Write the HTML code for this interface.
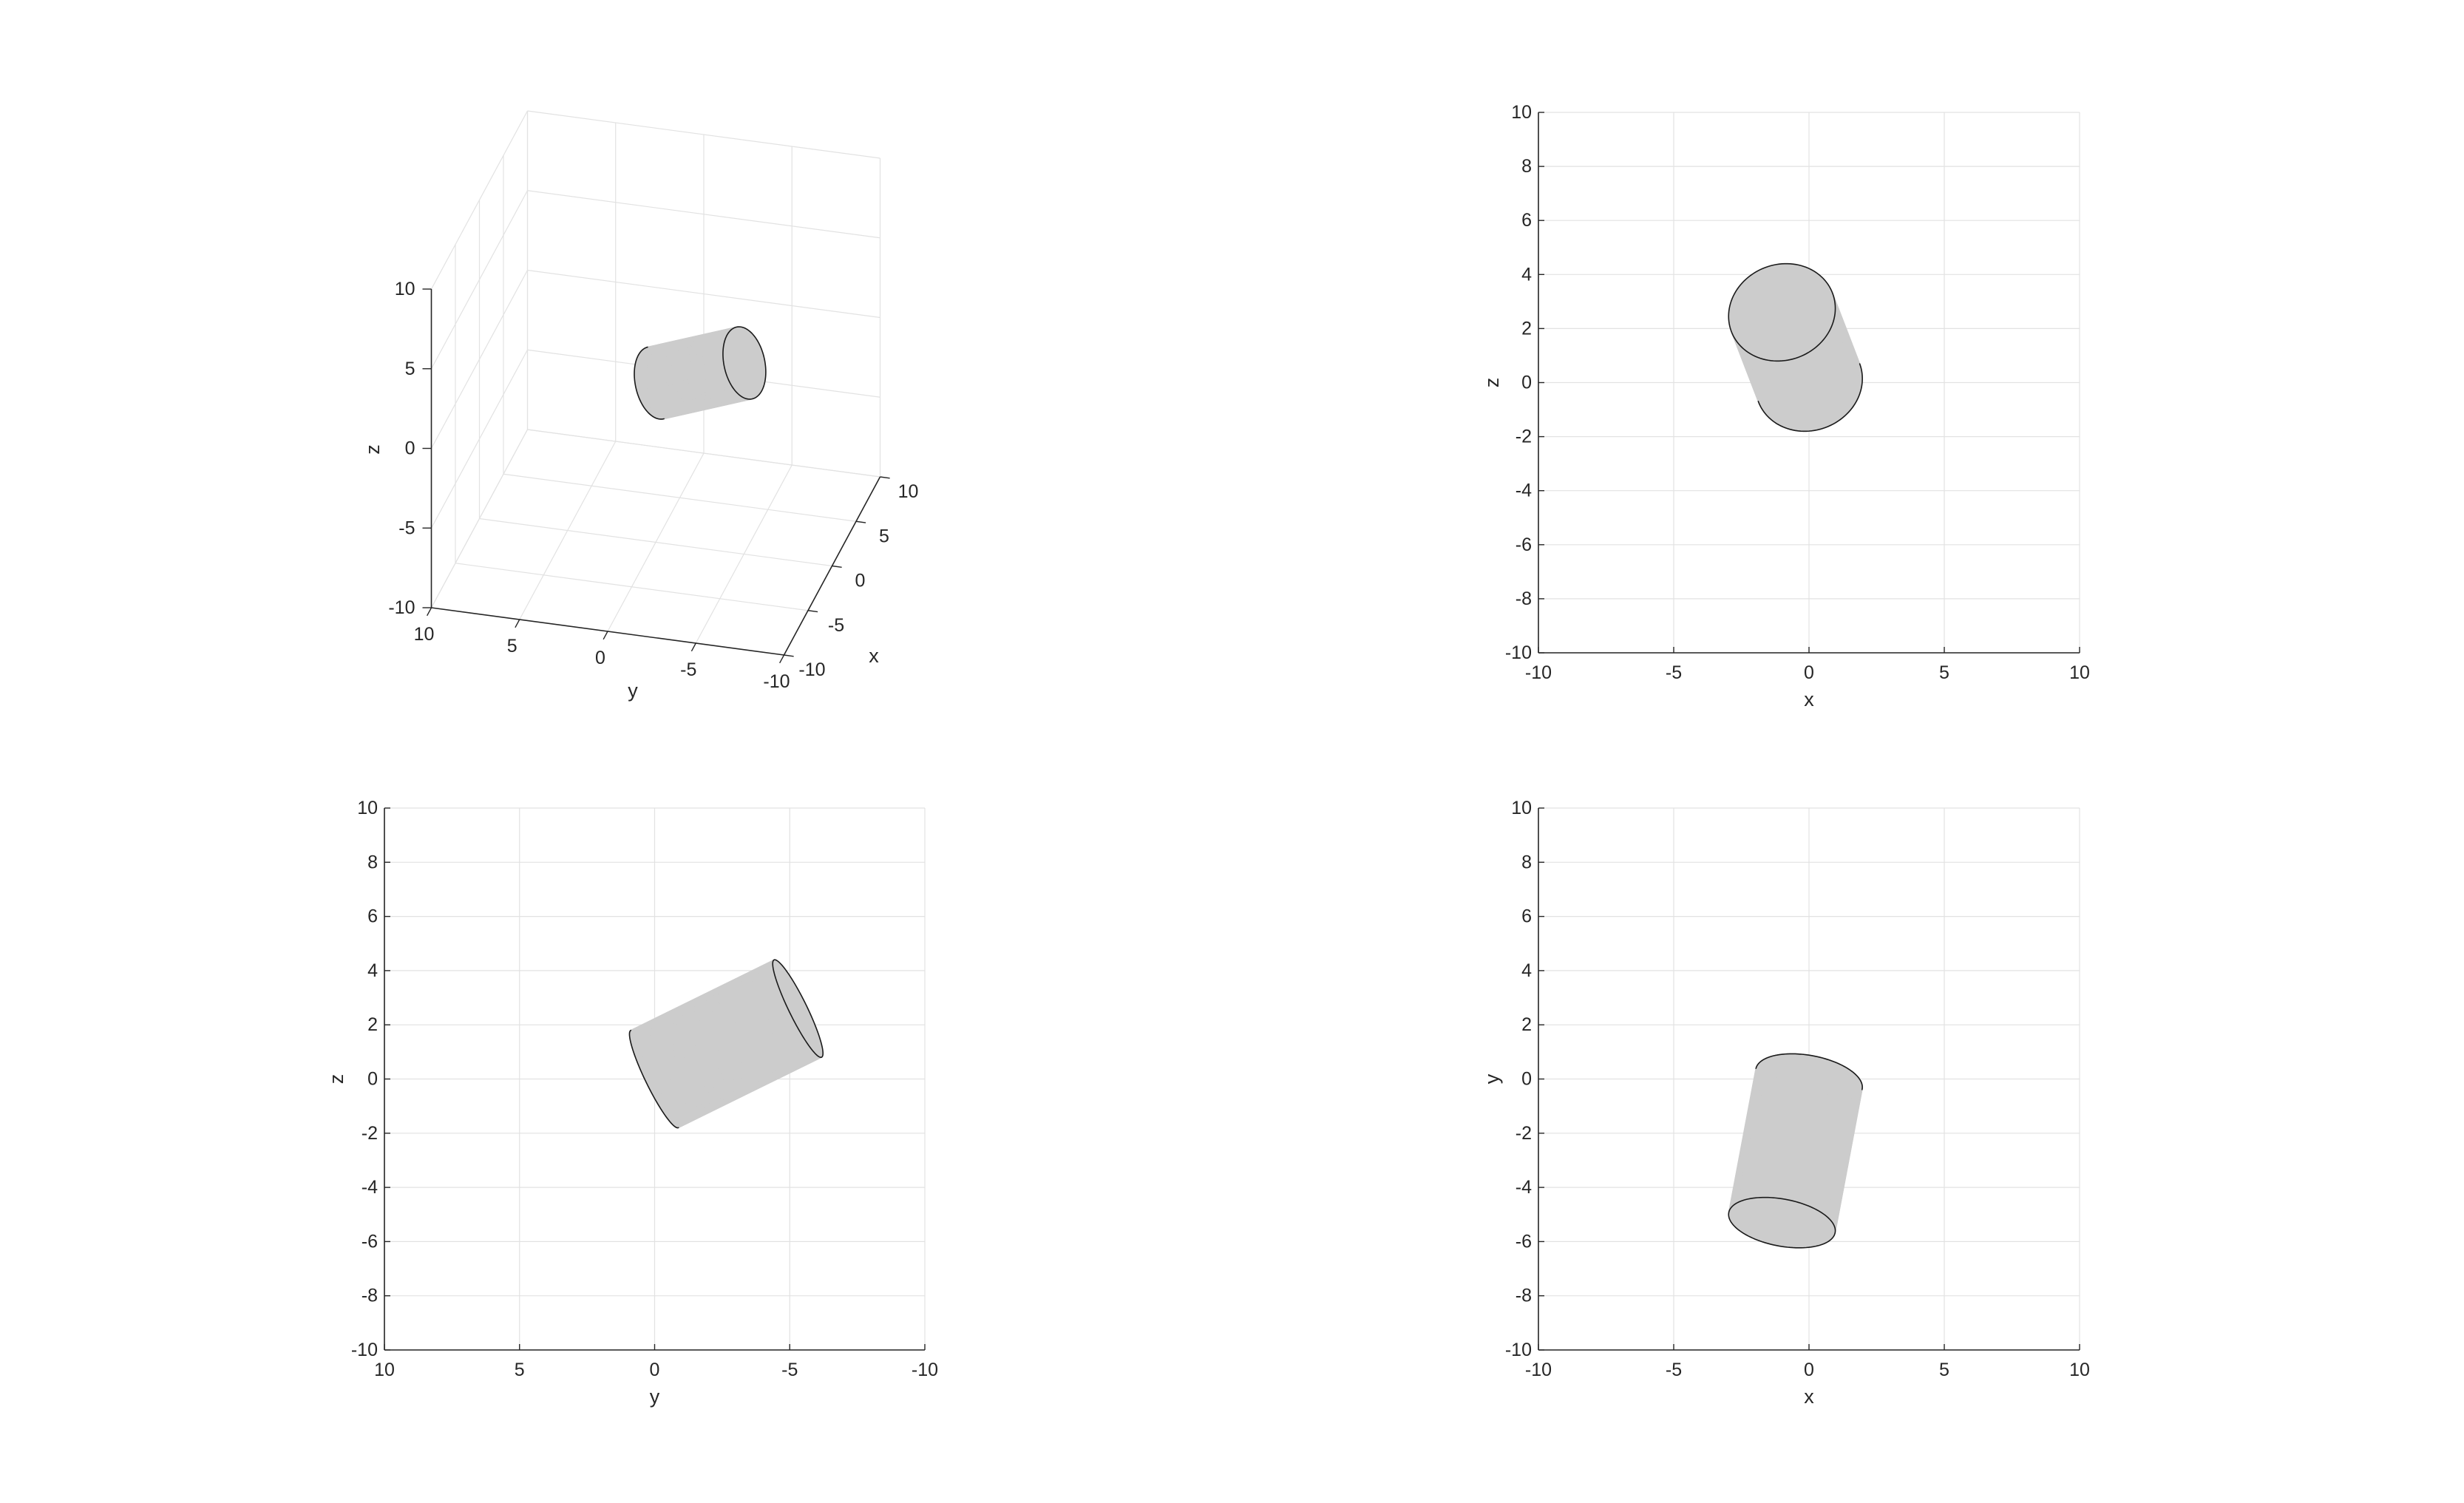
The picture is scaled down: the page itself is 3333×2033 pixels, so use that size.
<!DOCTYPE html>
<html><head><meta charset="utf-8">
<style>
html,body{margin:0;padding:0;background:#fff;}
svg{display:block;}
text{font-family:"Liberation Sans",Arial,sans-serif;fill:#262626;}
</style></head>
<body>
<svg id="fig" width="3333" height="2033" viewBox="0 0 3333 2033" xmlns="http://www.w3.org/2000/svg">
<rect x="0" y="0" width="3333" height="2033" fill="#fff"/>
</svg>
<script>
// ---- data ----
const capA = [0, 0, 0];          // centre of first cylinder cap (x,y,z)
const capB = [-1, -5.3, 2.6];    // centre of second cylinder cap (x,y,z)
const cylRadius = [2];
const tickValues = [-10, -5, 0, 5, 10];
const evenTicks = [-10, -8, -6, -4, -2, 0, 2, 4, 6, 8, 10];
const axisRange = [-10, 10];

const NS = 'http://www.w3.org/2000/svg';
const fig = document.getElementById('fig');
function el(tag, attrs, parent) {
  const e = document.createElementNS(NS, tag);
  for (const k in attrs) e.setAttribute(k, attrs[k]);
  (parent || fig).appendChild(e);
  return e;
}
function txt(s, x, y, anchor, parent, size, rot) {
  const t = el('text', {x: x, y: y, 'text-anchor': anchor, 'dominant-baseline': 'central', 'font-size': size || 25}, parent);
  if (rot) t.setAttribute('transform', 'rotate(' + rot + ' ' + x + ' ' + y + ')');
  t.textContent = s;
  return t;
}
function sub(a, b) { return [a[0]-b[0], a[1]-b[1], a[2]-b[2]]; }
function add(a, b) { return [a[0]+b[0], a[1]+b[1], a[2]+b[2]]; }
function mul(a, s) { return [a[0]*s, a[1]*s, a[2]*s]; }
function dot(a, b) { return a[0]*b[0]+a[1]*b[1]+a[2]*b[2]; }
function cross(a, b) { return [a[1]*b[2]-a[2]*b[1], a[2]*b[0]-a[0]*b[2], a[0]*b[1]-a[1]*b[0]]; }
function norm(a) { const l = Math.sqrt(dot(a, a)); return mul(a, 1/l); }

function drawCylinder(g, proj, toCam) {
  const N = 120;
  const axis = norm(sub(capB, capA));
  let tmp = Math.abs(axis[0]) < 0.9 ? [1,0,0] : [0,1,0];
  const u = norm(cross(axis, tmp));
  const v = cross(axis, u);
  const r = cylRadius[0];
  const ra = [], rb = [], nrm = [];
  for (let i = 0; i < N; i++) {
    const t = 2*Math.PI*i/N;
    const d = add(mul(u, Math.cos(t)*r), mul(v, Math.sin(t)*r));
    ra.push(add(capA, d)); rb.push(add(capB, d));
    nrm.push(norm(d));
  }
  const pts = arr => arr.map(p => proj(p).map(n => n.toFixed(2)).join(',')).join(' ');
  const aFront = dot(capA, toCam) > dot(capB, toCam);
  const back = aFront ? rb : ra, front = aFront ? ra : rb;
  el('polygon', {points: pts(back), fill: '#cccccc', stroke: 'none',  }, g);
  const side = el('g', { }, g);
  for (let i = 0; i < N; i++) {
    const j = (i+1) % N;
    const nm = norm(add(nrm[i], nrm[j]));
    if (dot(nm, toCam) <= 0) continue;
    el('polygon', {points: pts([ra[i], ra[j], rb[j], rb[i]]), fill: '#cccccc', stroke: '#cccccc', 'stroke-width': 1.5}, side);
  }
  let d = '';
  for (let i = 0; i < N; i++) {
    const j = (i+1) % N;
    const nm = norm(add(nrm[i], nrm[j]));
    if (dot(nm, toCam) <= 0) continue;
    const p = proj(back[i]), q = proj(back[j]);
    d += 'M' + p[0].toFixed(2) + ',' + p[1].toFixed(2) + 'L' + q[0].toFixed(2) + ',' + q[1].toFixed(2);
  }
  el('path', {d: d, fill: 'none', stroke: '#1a1a1a', 'stroke-width': 1.6, 'stroke-linecap': 'round',  }, g);
  el('polygon', {points: pts(front), fill: '#cccccc', stroke: '#1a1a1a', 'stroke-width': 1.6,  }, g);
}

function panel2D(name, L, R, T, B, hKey, vKey, hReversed, xlabel, ylabel, toCam, ylabX) {
  const g = el('g', { });
  const sx = val => hReversed ? R - (val - axisRange[0]) / (axisRange[1]-axisRange[0]) * (R-L)
                              : L + (val - axisRange[0]) / (axisRange[1]-axisRange[0]) * (R-L);
  const sy = val => B - (val - axisRange[0]) / (axisRange[1]-axisRange[0]) * (B-T);
  const grid = el('g', { }, g);
  tickValues.forEach(t => el('line', {x1: sx(t), x2: sx(t), y1: T, y2: B, stroke: '#e2e2e2', 'stroke-width': 1.2}, grid));
  evenTicks.forEach(t => el('line', {x1: L, x2: R, y1: sy(t), y2: sy(t), stroke: '#e2e2e2', 'stroke-width': 1.2}, grid));
  const proj = p => [sx(p[hKey]), sy(p[vKey])];
  const cg = el('g', { }, g);
  drawCylinder(cg, proj, toCam);
  const ax = el('g', { }, g);
  el('line', {x1: L, x2: R, y1: B, y2: B, stroke: '#262626', 'stroke-width': 1.6}, ax);
  el('line', {x1: L, x2: L, y1: T, y2: B, stroke: '#262626', 'stroke-width': 1.6}, ax);
  tickValues.forEach(t => {
    el('line', {x1: sx(t), x2: sx(t), y1: B, y2: B-8, stroke: '#262626', 'stroke-width': 1.4}, ax);
    const lt = txt(String(t), sx(t), B+27, 'middle', ax);
    
    
  });
  evenTicks.forEach(t => {
    el('line', {x1: L, x2: L+8, y1: sy(t), y2: sy(t), stroke: '#262626', 'stroke-width': 1.4}, ax);
    const lt = txt(String(t), L-9, sy(t), 'end', ax);
    
    
  });
  const xl = txt(xlabel, (L+R)/2, B+63, 'middle', ax, 27);
  
  
  const yl = txt(ylabel, ylabX, (T+B)/2, 'middle', ax, 27, -90);
  
  
}
panel2D('xz-view', 2081, 2813, 152, 883, 0, 2, false, 'x', 'z', [0,-1,0], 2018);
panel2D('yz-view', 520, 1251, 1093, 1826, 1, 2, true, 'y', 'z', [-1,0,0], 455);
panel2D('xy-view', 2081, 2813, 1093, 1826, 0, 1, false, 'x', 'y', [0,0,1], 2018);

(function () {
  const O = [887, 518];
  const ex = [6.5, -12.05], ey = [-23.85, -3.2], ez = [0, -21.55];
  const proj = p => [O[0] + p[0]*ex[0] + p[1]*ey[0] + p[2]*ez[0], O[1] + p[0]*ex[1] + p[1]*ey[1] + p[2]*ez[1]];
  const toCam = norm([-(ey[0]*ez[1]-ez[0]*ey[1]), -(ez[0]*ex[1]-ex[0]*ez[1]), -(ex[0]*ey[1]-ey[0]*ex[1])]);
  const g = el('g', { });
  const grid = el('g', { }, g);
  const lo = axisRange[0], hi = axisRange[1];
  const line3 = (a, b, par, col, w) => { const p = proj(a), q = proj(b); return el('line', {x1: p[0], y1: p[1], x2: q[0], y2: q[1], stroke: col, 'stroke-width': w}, par); };
  tickValues.forEach(t => {
    line3([t, lo, lo], [t, hi, lo], grid, '#e2e2e2', 1.2);
    line3([lo, t, lo], [hi, t, lo], grid, '#e2e2e2', 1.2);
    line3([hi, t, lo], [hi, t, hi], grid, '#e2e2e2', 1.2);
    line3([hi, lo, t], [hi, hi, t], grid, '#e2e2e2', 1.2);
    line3([t, hi, lo], [t, hi, hi], grid, '#e2e2e2', 1.2);
    line3([lo, hi, t], [hi, hi, t], grid, '#e2e2e2', 1.2);
  });
  const cg = el('g', { }, g);
  drawCylinder(cg, proj, toCam);
  const ax = el('g', { }, g);
  line3([lo, hi, lo], [lo, hi, hi], ax, '#262626', 1.6);
  line3([lo, hi, lo], [lo, lo, lo], ax, '#262626', 1.6);
  line3([lo, lo, lo], [hi, lo, lo], ax, '#262626', 1.6);
  tickValues.forEach(t => {
    let p = proj([lo, hi, t]);
    el('line', {x1: p[0], y1: p[1], x2: p[0]-12, y2: p[1], stroke: '#262626', 'stroke-width': 1.4}, ax);
    let lt = txt(String(t), p[0]-22, p[1], 'end', ax);
    
    
    p = proj([lo, t, lo]);
    el('line', {x1: p[0], y1: p[1], x2: p[0]-ex[0]*0.9, y2: p[1]-ex[1]*0.9, stroke: '#262626', 'stroke-width': 1.4}, ax);
    lt = txt(String(t), p[0]-10, p[1]+36, 'middle', ax);
    
    
    p = proj([t, lo, lo]);
    el('line', {x1: p[0], y1: p[1], x2: p[0]-ey[0]*0.55, y2: p[1]-ey[1]*0.55, stroke: '#262626', 'stroke-width': 1.4}, ax);
    lt = txt(String(t), p[0]+38, p[1]+20, 'middle', ax);
    
    
  });
  let l = txt('z', 504, 608, 'middle', ax, 27, -90);
  
  
  l = txt('y', 856, 934, 'middle', ax, 27);
  
  
  l = txt('x', 1182, 887, 'middle', ax, 27);
  
  
})();
</script>
</body></html>
